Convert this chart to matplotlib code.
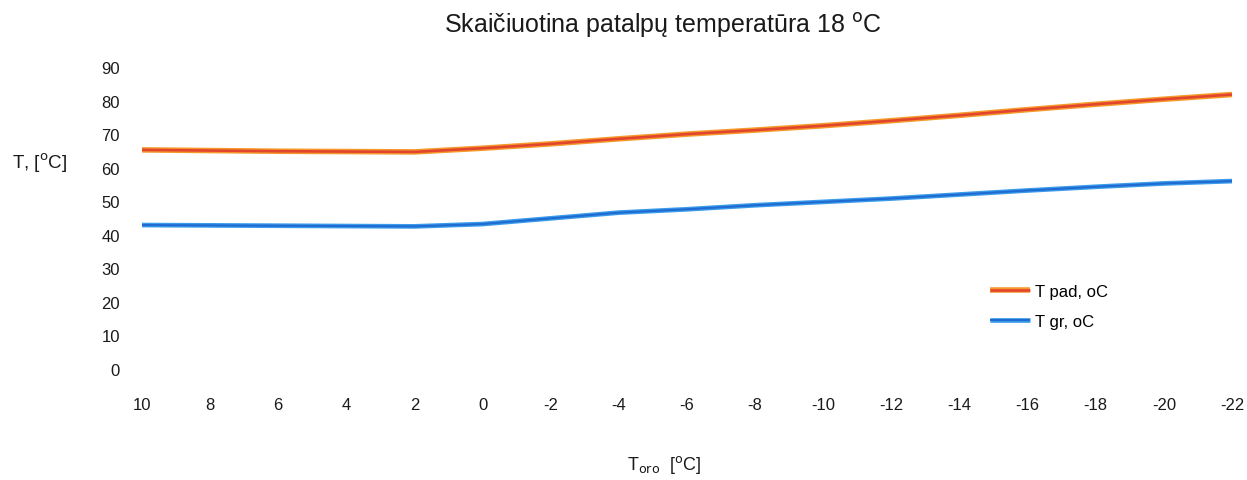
import matplotlib
matplotlib.use('Agg')
import matplotlib.pyplot as plt

# duomenys
t_oro = ['10', '8', '6', '4', '2', '0', '-2', '-4', '-6', '-8', '-10',
         '-12', '-14', '-16', '-18', '-20', '-22']
t_pad = [65.3, 65.1, 64.9, 64.8, 64.7, 65.8, 67.1, 68.6, 70.0, 71.2, 72.5,
         74.0, 75.6, 77.3, 78.9, 80.4, 81.8]
t_gr = [42.9, 42.8, 42.7, 42.6, 42.5, 43.2, 44.9, 46.6, 47.6, 48.8, 49.8,
        50.8, 52.0, 53.2, 54.3, 55.3, 56.0]
y_ticks = [0, 10, 20, 30, 40, 50, 60, 70, 80, 90]

plt.rcParams['font.family'] = ['Liberation Sans', 'DejaVu Sans']

fig = plt.figure(figsize=(12.47, 4.81), dpi=100)
ax = fig.add_axes([142 / 1247, 111 / 481, 1090 / 1247, 302 / 481])

x = list(range(len(t_oro)))

# "skenuotos" linijos: platesnis sluoksnis + siauresnis centras
l1a, = ax.plot(x, t_pad, color='#F59A2A', lw=4.0, solid_capstyle='butt', clip_on=False)
l1b, = ax.plot(x, t_pad, color='#E2452E', lw=1.9, solid_capstyle='butt', clip_on=False)
l2a, = ax.plot(x, t_gr, color='#3A9BEA', lw=3.4, solid_capstyle='butt', clip_on=False)
l2b, = ax.plot(x, t_gr, color='#1F6BD2', lw=1.5, solid_capstyle='butt', clip_on=False)

ax.set_xlim(0, len(t_oro) - 1)
ax.set_ylim(0, 90)
ax.set_xticks(x)
ax.set_xticklabels(t_oro)
ax.set_yticks(y_ticks)
for s in ax.spines.values():
    s.set_visible(False)
ax.tick_params(axis='both', length=0, labelsize=12, colors='#1a1a1a')
ax.tick_params(axis='x', pad=20)
ax.tick_params(axis='y', pad=16)

ax.legend([(l1a, l1b), (l2a, l2b)], ['T pad, oC', 'T gr, oC'],
          loc='upper left', bbox_to_anchor=(975 / 1247, 1 - 270 / 481),
          bbox_transform=fig.transFigure, frameon=False, fontsize=12,
          handlelength=2.4, handletextpad=0.3, labelspacing=0.9)

fig.text(663 / 1247, 1 - 25 / 481, 'Skaičiuotina patalpų temperatūra 18 $^{\\mathrm{o}}$C',
         ha='center', va='center', fontsize=18, color='#1a1a1a')
fig.text(12 / 1247, 1 - 163 / 481, 'T, [$^{\\mathrm{o}}$C]', ha='left', va='center',
         fontsize=13.5, color='#1a1a1a')
fig.text(664 / 1247, 1 - 465 / 481, 'T$_{\\mathrm{oro}}$  [$^{\\mathrm{o}}$C]', ha='center',
         va='center', fontsize=13, color='#1a1a1a')

plt.savefig('out.png', dpi=100)
